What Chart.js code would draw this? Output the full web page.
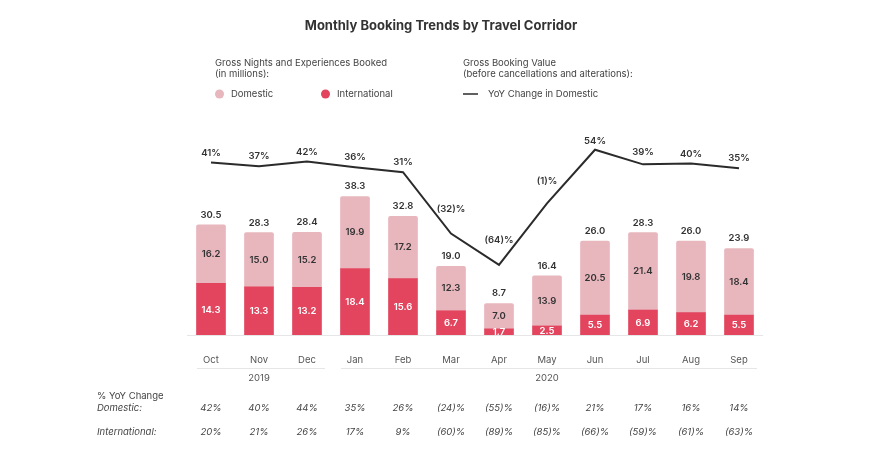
<!DOCTYPE html>
<html><head><meta charset="utf-8">
<script src="https://cdn.jsdelivr.net/npm/chart.js@4/dist/chart.umd.min.js"></script>
<style>html,body{margin:0;padding:0;background:#fff;}#wrap{width:880px;height:470px;position:relative;}</style>
</head><body><div id="wrap"><canvas id="c" width="880" height="470"></canvas></div>
<script>
const months = ['Oct','Nov','Dec','Jan','Feb','Mar','Apr','May','Jun','Jul','Aug','Sep'];
const yearOfMonth = ['2019','2019','2019','2020','2020','2020','2020','2020','2020','2020','2020','2020'];
const domestic = [16.2,15.0,15.2,19.9,17.2,12.3,7.0,13.9,20.5,21.4,19.8,18.4];
const international = [14.3,13.3,13.2,18.4,15.6,6.7,1.7,2.5,5.5,6.9,6.2,5.5];
const totals = [30.5,28.3,28.4,38.3,32.8,19.0,8.7,16.4,26.0,28.3,26.0,23.9];
const gbvYoYDomestic = [41,37,42,36,31,-32,-64,-1,54,39,40,35];
const nightsYoYDomestic = [42,40,44,35,26,-24,-55,-16,21,17,16,14];
const nightsYoYInternational = [20,21,26,17,9,-60,-89,-85,-66,-59,-61,-63];

const FONT = 'Inter, "Open Sans", sans-serif';
const COL_DOM = '#E8B6BD';
const COL_INT = '#E3445E';
const COL_LINE = '#2b2b2b';
const fmtPct = v => v < 0 ? '(' + (-v) + ')%' : v + '%';

const overlay = {
  id: 'overlay',
  afterDraw(chart) {
    const ctx = chart.ctx;
    const xs = chart.scales.x;
    const area = chart.chartArea;
    ctx.save();
    // Title
    ctx.fillStyle = '#333';
    ctx.textAlign = 'center'; ctx.textBaseline = 'middle';
    ctx.font = '700 13px ' + FONT;
    ctx.fillText('Monthly Booking Trends by Travel Corridor', 441, 26);
    // Legend
    ctx.textAlign = 'left';
    ctx.fillStyle = '#444';
    ctx.font = '400 9.5px ' + FONT;
    ctx.fillText('Gross Nights and Experiences Booked', 215, 63);
    ctx.fillText('(in millions):', 215, 74);
    ctx.fillText('Gross Booking Value', 463, 63);
    ctx.fillText('(before cancellations and alterations):', 463, 74);
    ctx.fillText('Domestic', 231, 94);
    ctx.fillText('International', 337, 94);
    ctx.fillText('YoY Change in Domestic', 488, 94);
    ctx.fillStyle = COL_DOM; ctx.beginPath(); ctx.arc(219.5, 94, 4.5, 0, Math.PI*2); ctx.fill();
    ctx.fillStyle = COL_INT; ctx.beginPath(); ctx.arc(325.5, 94, 4.5, 0, Math.PI*2); ctx.fill();
    ctx.strokeStyle = COL_LINE; ctx.lineWidth = 1.5;
    ctx.beginPath(); ctx.moveTo(463, 94); ctx.lineTo(478, 94); ctx.stroke();

    // Baseline
    ctx.strokeStyle = '#e6e6e6'; ctx.lineWidth = 1;
    ctx.beginPath(); ctx.moveTo(area.left, area.bottom + 0.5); ctx.lineTo(area.right, area.bottom + 0.5); ctx.stroke();

    // Month labels
    ctx.textAlign = 'center';
    ctx.fillStyle = '#555';
    ctx.font = '400 9.5px ' + FONT;
    months.forEach((m, i) => ctx.fillText(m, xs.getPixelForValue(i), 360));
    // Year groups
    const years = [...new Set(yearOfMonth)];
    years.forEach(y => {
      const idx = yearOfMonth.map((v, i) => v === y ? i : -1).filter(i => i >= 0);
      const a = idx[0], b = idx[idx.length - 1];
      const x0 = xs.getPixelForValue(a) - 14, x1 = xs.getPixelForValue(b) + 18;
      ctx.strokeStyle = '#e6e6e6';
      ctx.beginPath(); ctx.moveTo(x0, 368.5); ctx.lineTo(x1, 368.5); ctx.stroke();
      const mid = idx[Math.floor((idx.length - 1) / 2)];
      ctx.fillStyle = '#555';
      ctx.fillText(y, xs.getPixelForValue(mid), 378);
    });

    // Table
    ctx.textAlign = 'left';
    ctx.fillStyle = '#444';
    ctx.font = '400 9.5px ' + FONT;
    ctx.fillText('% YoY Change', 97, 396);
    ctx.font = 'italic 400 9.5px ' + FONT;
    ctx.fillText('Domestic:', 97, 408);
    ctx.fillText('International:', 97, 432);
    ctx.textAlign = 'center';
    nightsYoYDomestic.forEach((v, i) => ctx.fillText(fmtPct(v), xs.getPixelForValue(i), 408));
    nightsYoYInternational.forEach((v, i) => ctx.fillText(fmtPct(v), xs.getPixelForValue(i), 432));

    // Bar labels
    const mDom = chart.getDatasetMeta(1), mInt = chart.getDatasetMeta(0);
    ctx.font = '600 9.5px ' + FONT;
    mInt.data.forEach((el, i) => {
      ctx.fillStyle = '#fff';
      ctx.fillText(international[i].toFixed(1), el.x, (el.y + el.base) / 2 + 0.5);
    });
    mDom.data.forEach((el, i) => {
      ctx.fillStyle = '#333';
      ctx.fillText(domestic[i].toFixed(1), el.x, (el.y + el.base) / 2);
      ctx.fillText(totals[i].toFixed(1), el.x, el.y - 10);
    });
    // Line labels
    const mLine = chart.getDatasetMeta(2);
    const pts = mLine.data;
    pts.forEach((p, i) => {
      let top = p.y;
      const d = 12;
      if (i > 0) { const q = pts[i-1]; top = Math.min(top, p.y + (q.y - p.y) * d / (p.x - q.x)); }
      if (i < pts.length - 1) { const q = pts[i+1]; top = Math.min(top, p.y + (q.y - p.y) * d / (q.x - p.x)); }
      ctx.fillStyle = '#333';
      ctx.fillText(fmtPct(gbvYoYDomestic[i]), p.x, top - 9);
    });
    ctx.restore();
  }
};

new Chart(document.getElementById('c'), {
  data: {
    labels: months,
    datasets: [
      { type: 'bar', label: 'International', data: international, backgroundColor: COL_INT, stack: 's', yAxisID: 'y', barThickness: 29, order: 2 },
      { type: 'bar', label: 'Domestic', data: domestic, backgroundColor: COL_DOM, stack: 's', yAxisID: 'y', barThickness: 29, order: 2,
        borderRadius: {topLeft: 2, topRight: 2, bottomLeft: 0, bottomRight: 0}, borderSkipped: 'start' },
      { type: 'line', label: 'YoY Change in Domestic', data: gbvYoYDomestic, borderColor: COL_LINE, borderWidth: 2, pointRadius: 0, tension: 0, yAxisID: 'y1', order: 1 }
    ]
  },
  options: {
    responsive: false, animation: false, devicePixelRatio: 1,
    layout: { padding: { left: 187, right: 117, top: 100, bottom: 135 } },
    plugins: { legend: { display: false }, title: { display: false }, tooltip: { enabled: false } },
    scales: {
      x: { display: false, stacked: true, offset: true },
      y: { display: false, stacked: true, min: 0, max: 65 },
      y1: { display: false, min: -136, max: 105 }
    }
  },
  plugins: [overlay]
});
</script></body></html>
